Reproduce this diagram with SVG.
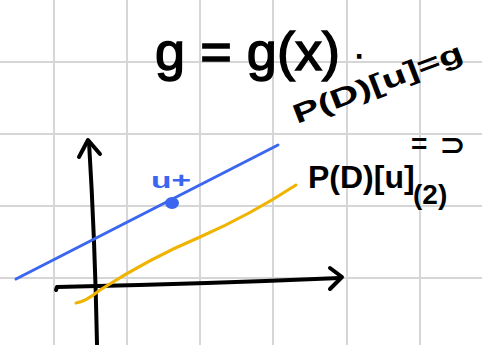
<svg xmlns="http://www.w3.org/2000/svg" width="482" height="345" viewBox="0 0 482 345">
<style>
.grid{stroke:#d6d6d6;stroke-width:2;fill:none}
.ink{stroke:#000;stroke-width:4;fill:none;stroke-linecap:round;stroke-linejoin:round}
.t{font-family:"Liberation Sans",Arial,sans-serif;fill:#000;font-weight:bold}
</style>
<rect width="482" height="345" fill="#fff"/>
<g id="grid" class="grid">
<line x1="54" y1="0" x2="54" y2="345"/><line x1="127" y1="0" x2="127" y2="345"/>
<line x1="200" y1="0" x2="200" y2="345"/><line x1="273" y1="0" x2="273" y2="345"/>
<line x1="347" y1="0" x2="347" y2="345"/><line x1="420" y1="0" x2="420" y2="345"/>
<line x1="0" y1="62" x2="482" y2="62"/><line x1="0" y1="134" x2="482" y2="134"/>
<line x1="0" y1="206" x2="482" y2="206"/><line x1="0" y1="278" x2="482" y2="278"/>
</g>
<g id="connectors">
<path class="ink" d="M97 344 Q95 240 89 142"/>
<path class="ink" d="M79 157 L88 140 L100 154"/>
<path class="ink" d="M56 290 L57 287 Q200 284 340 278"/>
<path class="ink" d="M330 268 L342 277 L330 289"/>
<path d="M16 279 Q150 210 278 145" stroke="#3a66f0" stroke-width="3" fill="none" stroke-linecap="round"/>
<path d="M76 303 Q85 302 100 290 Q150 258 200 237 Q250 215 296 185" stroke="#f0b400" stroke-width="3" fill="none" stroke-linecap="round"/>
</g>
<g id="point">
<ellipse cx="172" cy="203" rx="7" ry="6" fill="#3a66f0"/>
<text x="151" y="188" font-family="Liberation Sans,Arial,sans-serif" font-weight="bold" font-size="22" fill="#3a66f0" textLength="40" lengthAdjust="spacingAndGlyphs">u+</text>
</g>
<g id="title"><text x="155" y="70" font-family="Liberation Sans,Arial,sans-serif" font-size="54" fill="#000" stroke="#000" stroke-width="1.5" textLength="185" lengthAdjust="spacing">g = g(x)</text>
<text x="355" y="58" font-family="Liberation Sans,Arial,sans-serif" font-size="30" fill="#000" stroke="#000" stroke-width="1.5">.</text></g>
<g id="eq1"><text class="t" x="297" y="124" font-size="27" transform="rotate(-21 297 124)" textLength="180" lengthAdjust="spacingAndGlyphs">P(D)[u]=g</text></g>
<g id="eq2"><text class="t" x="308" y="188" font-size="32">P(D)[u]</text>
<text class="t" x="411" y="153" font-size="28">=</text>
<text class="t" x="440" y="155" font-size="30">⊃</text>
<text class="t" x="413" y="204" font-size="28">(2)</text></g>
</svg>
